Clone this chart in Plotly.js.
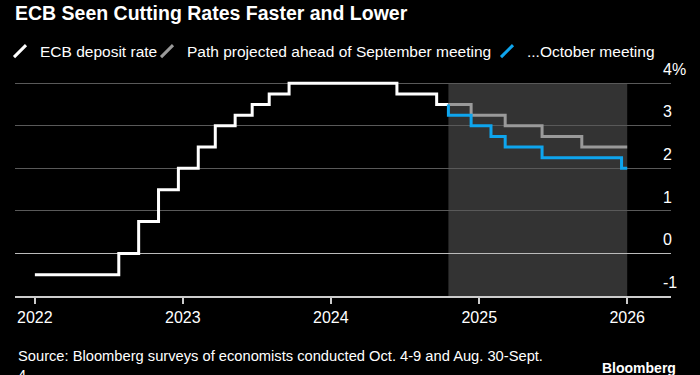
<!DOCTYPE html>
<html><head><meta charset="utf-8">
<script src="https://cdn.plot.ly/plotly-3.0.1.min.js"></script>
<style>html,body{margin:0;padding:0;background:#000;} #chart{width:700px;height:375px;}</style>
</head><body><div id="chart"></div>
<script>
// ECB deposit rate (actual)
const depositDates = ['2022-01-01','2022-07-27','2022-09-14','2022-11-02','2022-12-21','2023-02-08','2023-03-22','2023-05-10','2023-06-21','2023-08-02','2023-09-20','2024-06-12','2024-09-18','2024-10-17'];
const depositRates = [-0.5, 0, 0.75, 1.5, 2.0, 2.5, 3.0, 3.25, 3.5, 3.75, 4.0, 3.75, 3.5, 3.5];
// Path projected ahead of September meeting
const septDates = ['2024-10-17','2024-12-12','2025-03-06','2025-06-05','2025-09-11','2026-01-01'];
const septRates = [3.5, 3.25, 3.0, 2.75, 2.5, 2.5];
// Path projected ahead of October meeting
const octDates = ['2024-10-17','2024-10-17','2024-12-12','2025-01-30','2025-03-06','2025-06-05','2025-12-18','2026-01-01'];
const octRates = [3.5, 3.25, 3.0, 2.75, 2.5, 2.25, 2.0, 2.0];

const seriesNames = ['ECB deposit rate', 'Path projected ahead of September meeting', '...October meeting'];
const seriesColors = ['#ffffff', '#9a9a9a', '#0ea5ee'];

const xTickVals = ['2022-01-01','2023-01-01','2024-01-01','2025-01-01','2026-01-01'];
const xTickText = ['2022','2023','2024','2025','2026'];
const yTickVals = [-1, 0, 1, 2, 3, 4];
const yTickText = ['-1', '0', '1', '2', '3', '4%'];

const FONT = '"Liberation Sans", Arial, Helvetica, sans-serif';

const seriesX = [depositDates, septDates, octDates];
const seriesY = [depositRates, septRates, octRates];
const legendIds = ['legend', 'legend2', 'legend3'];

const traces = [];
for (let i = 0; i < 3; i++) {
  traces.push({
    type: 'scatter', mode: 'lines', x: seriesX[i], y: seriesY[i],
    line: {shape: 'hv', color: seriesColors[i], width: 3},
    name: seriesNames[i], showlegend: false, legendgroup: 'g' + i, hoverinfo: 'skip'
  });
}
for (let i = 0; i < 3; i++) {
  traces.push({
    type: 'scatter', mode: 'markers', x: [null], y: [null],
    marker: {symbol: 'line-ne', size: 12, color: seriesColors[i], line: {width: 3, color: seriesColors[i]}},
    name: seriesNames[i], showlegend: true, legendgroup: 'g' + i, legend: legendIds[i]
  });
}

const legendBase = {
  orientation: 'h', xref: 'container', yref: 'container', xanchor: 'left', yanchor: 'middle',
  y: 1 - 51.5 / 375, bgcolor: 'rgba(0,0,0,0)', borderwidth: 0,
  font: {family: FONT, size: 15.5, color: '#ffffff'}
};

const projStart = septDates[0];
const projEnd = septDates[septDates.length - 1];

const layout = {
  width: 700, height: 375,
  paper_bgcolor: '#000000', plot_bgcolor: '#000000',
  margin: {l: 15, r: 29, t: 79, b: 79, pad: 0},
  font: {family: FONT, color: '#ffffff'},
  title: {
    text: '<b>ECB Seen Cutting Rates Faster and Lower</b>',
    font: {family: FONT, size: 19.5, color: '#ffffff'},
    xref: 'container', yref: 'container', x: 15 / 700, xanchor: 'left', y: 1 - 6 / 375, yanchor: 'top'
  },
  legend: Object.assign({}, legendBase, {x: -2 / 700}),
  legend2: Object.assign({}, legendBase, {x: 147 / 700}),
  legend3: Object.assign({}, legendBase, {x: 487 / 700}),
  xaxis: {
    type: 'date', range: ['2021-11-13', '2026-04-19'],
    tickvals: xTickVals, ticktext: xTickText,
    showgrid: false, zeroline: false,
    showline: true, linecolor: '#cccccc', linewidth: 1.5,
    ticks: 'outside', ticklen: 6, tickwidth: 1.5, tickcolor: '#cccccc',
    tickfont: {family: FONT, size: 16, color: '#ffffff'},
    fixedrange: true
  },
  yaxis: {
    range: [-1, 4.1], side: 'right',
    tickvals: yTickVals, ticktext: yTickText,
    showgrid: true, gridcolor: '#595959', gridwidth: 1,
    zeroline: true, zerolinecolor: '#bbbbbb', zerolinewidth: 1.5,
    showline: false, ticks: '',
    ticklabelposition: 'outside', ticklabelstandoff: -9, ticklabelshift: -14,
    tickfont: {family: FONT, size: 16, color: '#ffffff'},
    fixedrange: true
  },
  shapes: [{
    type: 'rect', xref: 'x', yref: 'y', x0: projStart, x1: projEnd, y0: -1, y1: 4,
    fillcolor: '#333333', line: {width: 0}, layer: 'below'
  }],
  annotations: [
    {
      xref: 'paper', yref: 'paper', x: 0, y: 0, xanchor: 'left', yanchor: 'top', xshift: 1, yshift: -50,
      align: 'left', showarrow: false,
      text: 'Source: Bloomberg surveys of economists conducted Oct. 4-9 and Aug. 30-Sept.<br>4',
      font: {family: FONT, size: 14.7, color: '#ffffff'}
    },
    {
      xref: 'paper', yref: 'paper', x: 1, y: 0, xanchor: 'right', yanchor: 'top', xshift: 7, yshift: -62,
      showarrow: false, text: '<b>Bloomberg</b>',
      font: {family: FONT, size: 14, color: '#ffffff'}
    }
  ]
};

Plotly.newPlot('chart', traces, layout, {displayModeBar: false, staticPlot: true});
</script>
</body></html>
